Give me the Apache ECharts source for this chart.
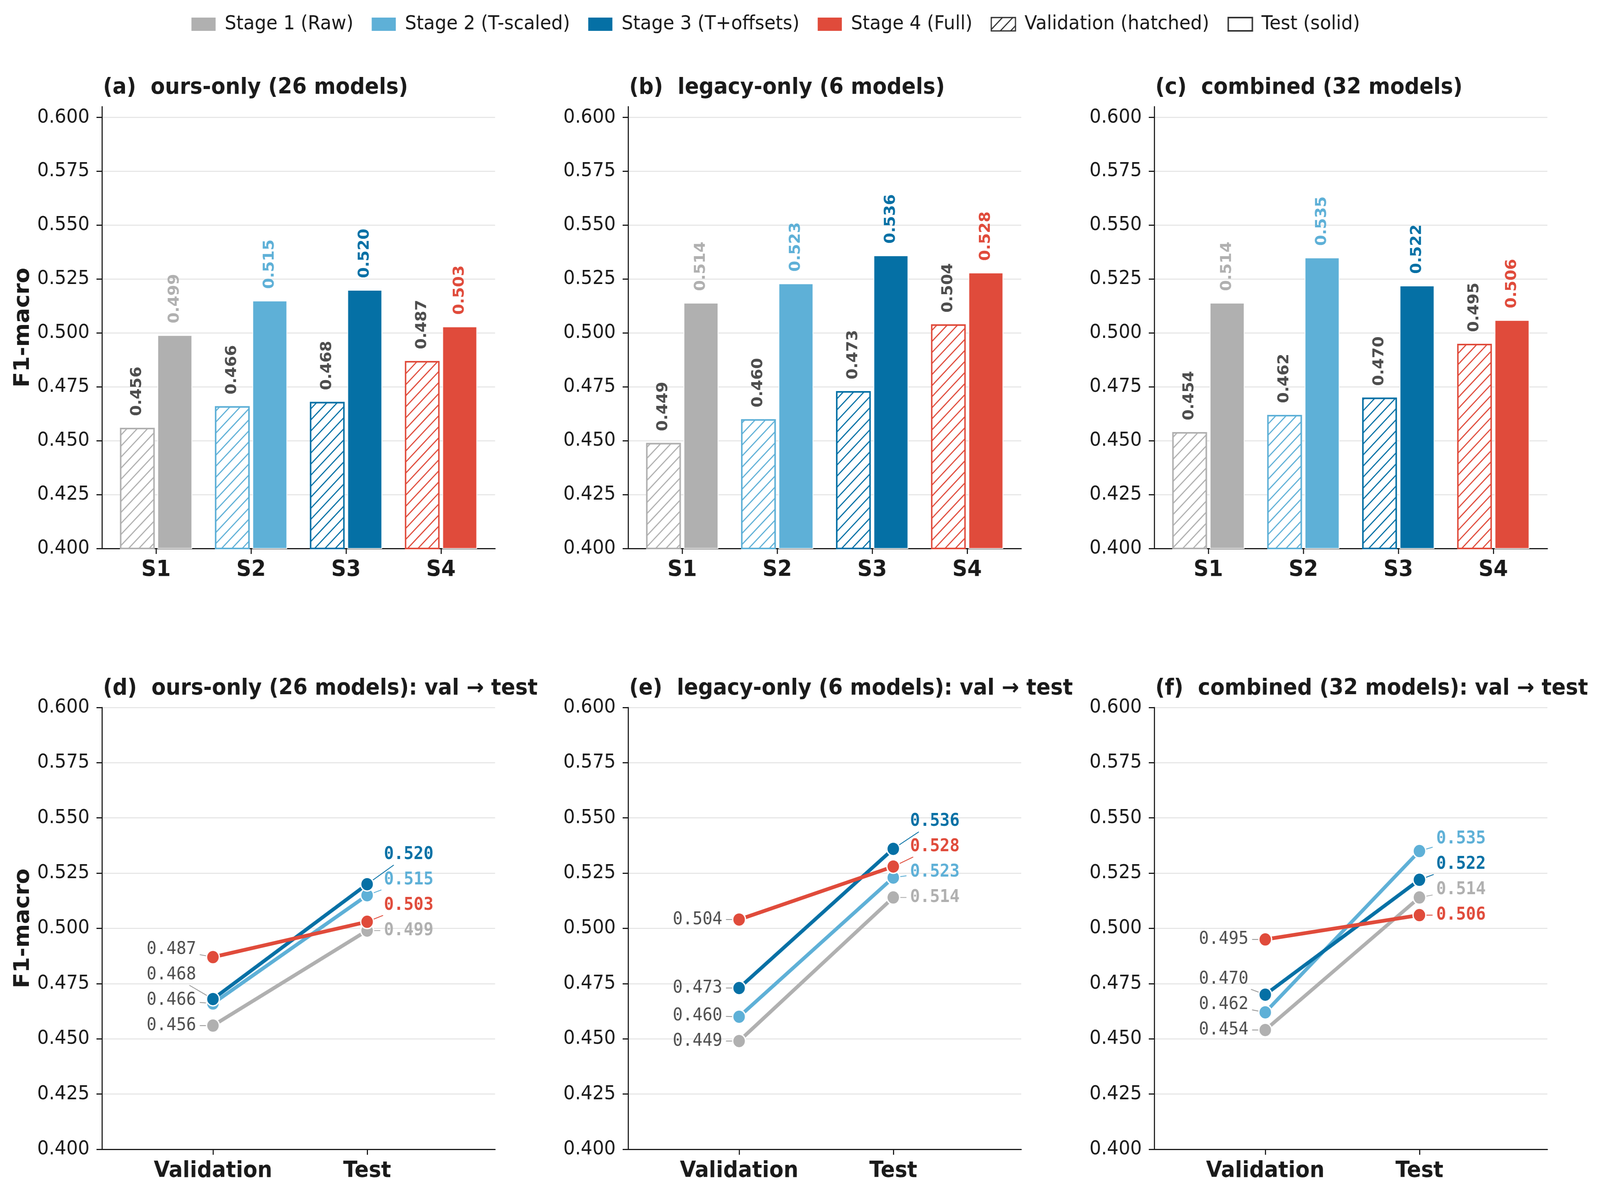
<!DOCTYPE html>
<html>
<head>
<meta charset="utf-8">
<script src="https://cdn.jsdelivr.net/npm/echarts@6/dist/echarts.min.js"></script>
<style>
html, body { margin: 0; padding: 0; background: #fff; overflow: hidden; }
#main { width: 4379px; height: 3059px; }
</style>
</head>
<body>
<div id="main"></div>
<script>
// ---- data ----
var stageNames = ['Stage 1 (Raw)', 'Stage 2 (T-scaled)', 'Stage 3 (T+offsets)', 'Stage 4 (Full)'];
var stageCats = ['S1', 'S2', 'S3', 'S4'];
var splitCats = ['Validation', 'Test'];
var titlesTop = ['(a)  ours-only (26 models)', '(b)  legacy-only (6 models)', '(c)  combined (32 models)'];
var titlesBottom = ['(d)  ours-only (26 models): val \u2192 test', '(e)  legacy-only (6 models): val \u2192 test', '(f)  combined (32 models): val \u2192 test'];

var valOurs = [0.456, 0.466, 0.468, 0.487];
var testOurs = [0.499, 0.515, 0.520, 0.503];
var valLegacy = [0.449, 0.460, 0.473, 0.504];
var testLegacy = [0.514, 0.523, 0.536, 0.528];
var valCombined = [0.454, 0.462, 0.470, 0.495];
var testCombined = [0.514, 0.535, 0.522, 0.506];

var yTicks = [0.400, 0.425, 0.450, 0.475, 0.500, 0.525, 0.550, 0.575, 0.600];

// ---- style ----
var stageColors = ['#b0b0b0', '#5eb0d7', '#0570a5', '#e04b3b'];
var FONT = 'DejaVu Sans';
var MONO = 'DejaVu Sans Mono';
var INK = '#1a1a1a';
var VAL_TXT = '#4d4d4d';
var MIN_SEP = 0.0115;   // min vertical spacing of line labels, data units

var colLeft = [279, 1719, 3159];
var colWidth = 1076;

var panels = [
  { val: valOurs, test: testOurs },
  { val: valLegacy, test: testLegacy },
  { val: valCombined, test: testCombined }
];

// the window can be narrower than the figure; squeeze the figure to fit it
var el = document.getElementById('main');
var fitX = Math.min(1, window.innerWidth / 4379);
var fitY = Math.min(1, window.innerHeight / 3059);
if (fitX < 1 || fitY < 1) {
  el.style.transformOrigin = '0 0';
  el.style.transform = 'scale(' + fitX + ',' + fitY + ')';
}

function hatch(color) {
  return {
    symbol: 'rect', symbolSize: 1, color: color, backgroundColor: '#fff',
    dashArrayX: [1, 0], dashArrayY: [3, 17], rotation: -Math.PI / 4
  };
}

// stack labels so they keep MIN_SEP apart, from the lowest value upward
function labelSlots(vals) {
  var idx = vals.map(function (v, i) { return i; })
    .sort(function (a, b) { return vals[a] - vals[b]; });
  var out = [], prev = -Infinity;
  idx.forEach(function (i) {
    var y = Math.max(vals[i], prev + MIN_SEP);
    out[i] = y;
    prev = y;
  });
  return out;
}

function yAxisFor(g, max, withName) {
  return {
    type: 'value', gridIndex: g, min: 0.4, max: max,
    name: withName ? 'F1-macro' : '',
    nameLocation: 'middle', nameGap: 186,
    nameTextStyle: { fontFamily: FONT, fontSize: 58, fontWeight: 'bold', color: INK },
    axisLine: { show: true, onZero: false, lineStyle: { color: INK, width: 3 } },
    axisTick: { show: true, length: 15, lineStyle: { color: INK, width: 3 }, customValues: yTicks },
    axisLabel: {
      customValues: yTicks, margin: 34, fontFamily: FONT, fontSize: 50, color: INK,
      formatter: function (v) { return v.toFixed(3); }
    },
    splitLine: { show: true, lineStyle: { color: '#e3e3e3', width: 2.5 } }
  };
}

function xAxisFor(g, min, max, ticks, names) {
  return {
    type: 'value', gridIndex: g, min: min, max: max,
    axisLine: { show: true, onZero: false, lineStyle: { color: INK, width: 3 } },
    axisTick: { show: true, length: 14, lineStyle: { color: INK, width: 3 }, customValues: ticks },
    axisLabel: {
      customValues: ticks, margin: 28, fontFamily: FONT, fontSize: 57, fontWeight: 'bold', color: INK,
      formatter: function (v) { return names[Math.round(v)]; }
    },
    splitLine: { show: false }
  };
}

function tagSeries(g, vals, xPos, side, bold, txtColors, leadColors) {
  var slots = labelSlots(vals);
  return {
    type: 'custom', xAxisIndex: g, yAxisIndex: g, z: 1, silent: true,
    data: vals.map(function (v, i) { return [xPos, v, slots[i], i]; }),
    renderItem: function (params, api) {
      var i = api.value(3);
      var p = api.coord([api.value(0), api.value(1)]);
      var q = api.coord([api.value(0), api.value(2)]);
      var tx = p[0] + side * 46;
      var w = 135, hh = 24;
      var cx = tx + side * w / 2, cy = q[1];
      var dx = p[0] - cx, dy = p[1] - cy;
      var t = Math.min((w / 2 + 4) / Math.abs(dx), dy === 0 ? Infinity : hh / Math.abs(dy));
      var len = Math.sqrt(dx * dx + dy * dy);
      var sx = cx + dx * t + dx / len * 6, sy = cy + dy * t + dy / len * 6;
      return {
        type: 'group',
        children: [
          { type: 'line', shape: { x1: sx, y1: sy, x2: p[0], y2: p[1] },
            style: { stroke: leadColors[i], lineWidth: 2.2 } },
          { type: 'text', x: tx, y: cy,
            style: {
              text: vals[i].toFixed(3), fill: txtColors[i],
              fontFamily: MONO, fontSize: 45, fontWeight: bold ? 'bold' : 'normal',
              align: side < 0 ? 'right' : 'left', verticalAlign: 'middle'
            } }
        ]
      };
    }
  };
}

var grids = [], xAxes = [], yAxes = [], series = [], titles = [];

// top row: grouped bars
panels.forEach(function (pn, c) {
  var g = grids.length;
  grids.push({ left: colLeft[c], top: 273, width: colWidth, height: 1131 });
  xAxes.push(xAxisFor(g, -0.57, 3.57, [0, 1, 2, 3], stageCats));
  yAxes.push(yAxisFor(g, 0.605, c === 0));
  titles.push({ text: titlesTop[c], left: colLeft[c] + 3, top: 197, padding: 0,
    textStyle: { fontFamily: FONT, fontSize: 57, fontWeight: 'bold', color: INK } });

  series.push({
    type: 'bar', name: 'Validation (hatched)', xAxisIndex: g, yAxisIndex: g,
    barWidth: 95, barGap: '8%',
    itemStyle: { color: '#fff', borderColor: '#333', borderWidth: 4 },
    label: {
      show: true, position: 'top', distance: 30, rotate: 90, align: 'left', verticalAlign: 'middle',
      fontFamily: FONT, fontSize: 40, fontWeight: 'bold', color: VAL_TXT,
      formatter: function (p) { return p.value[1].toFixed(3); }
    },
    data: pn.val.map(function (v, i) {
      return { value: [i, v], itemStyle: { color: '#fff', borderColor: stageColors[i], borderWidth: 4, decal: hatch(stageColors[i]) } };
    })
  });
  series.push({
    type: 'bar', name: 'Test (solid)', xAxisIndex: g, yAxisIndex: g,
    barWidth: 95, barGap: '8%',
    itemStyle: { color: '#fff', borderColor: '#333', borderWidth: 4 },
    label: {
      show: true, position: 'top', distance: 30, rotate: 90, align: 'left', verticalAlign: 'middle',
      fontFamily: FONT, fontSize: 40, fontWeight: 'bold',
      formatter: function (p) { return p.value[1].toFixed(3); }
    },
    data: pn.test.map(function (v, i) {
      return { value: [i, v], itemStyle: { color: stageColors[i], borderColor: '#fff', borderWidth: 2 },
        label: { color: stageColors[i] } };
    })
  });
});

// bottom row: val -> test slopes
panels.forEach(function (pn, c) {
  var g = grids.length;
  grids.push({ left: colLeft[c], top: 1811, width: colWidth, height: 1131 });
  xAxes.push(xAxisFor(g, -0.72, 1.83, [0, 1], splitCats));
  yAxes.push(yAxisFor(g, 0.6, c === 0));
  titles.push({ text: titlesBottom[c], left: colLeft[c] + 3, top: 1735, padding: 0,
    textStyle: { fontFamily: FONT, fontSize: 57, fontWeight: 'bold', color: INK } });

  series.push(tagSeries(g, pn.val, 0, -1, false,
    pn.val.map(function () { return VAL_TXT; }), pn.val.map(function () { return '#9a9a9a'; })));
  series.push(tagSeries(g, pn.test, 1, 1, true, stageColors, stageColors));

  stageNames.forEach(function (name, s) {
    series.push({
      type: 'line', name: name, xAxisIndex: g, yAxisIndex: g, z: 3,
      symbol: 'circle', symbolSize: 35,
      lineStyle: { color: stageColors[s], width: 9.5 },
      itemStyle: { color: stageColors[s], borderColor: '#fff', borderWidth: 3.5 },
      data: [[0, pn.val[s]], [1, pn.test[s]]]
    });
  });
});

var legendData = stageNames.map(function (n, i) {
  return { name: n, icon: 'rect', itemStyle: { color: stageColors[i], borderWidth: 0 } };
});
legendData.push({ name: 'Validation (hatched)', icon: 'rect',
  itemStyle: { color: '#fff', borderColor: '#333', borderWidth: 3, decal: hatch('#333') } });
legendData.push({ name: 'Test (solid)', icon: 'rect',
  itemStyle: { color: '#fff', borderColor: '#333', borderWidth: 4 } });

var chart = echarts.init(el);
chart.setOption({
  animation: false,
  backgroundColor: '#fff',
  title: titles,
  legend: {
    left: 519, top: 32, itemWidth: 66, itemHeight: 34, itemGap: 50,
    selectedMode: false,
    textStyle: { fontFamily: FONT, fontSize: 50, color: INK, padding: [0, 0, 0, 20] },
    data: legendData
  },
  grid: grids,
  xAxis: xAxes,
  yAxis: yAxes,
  series: series
});
</script>
</body>
</html>
